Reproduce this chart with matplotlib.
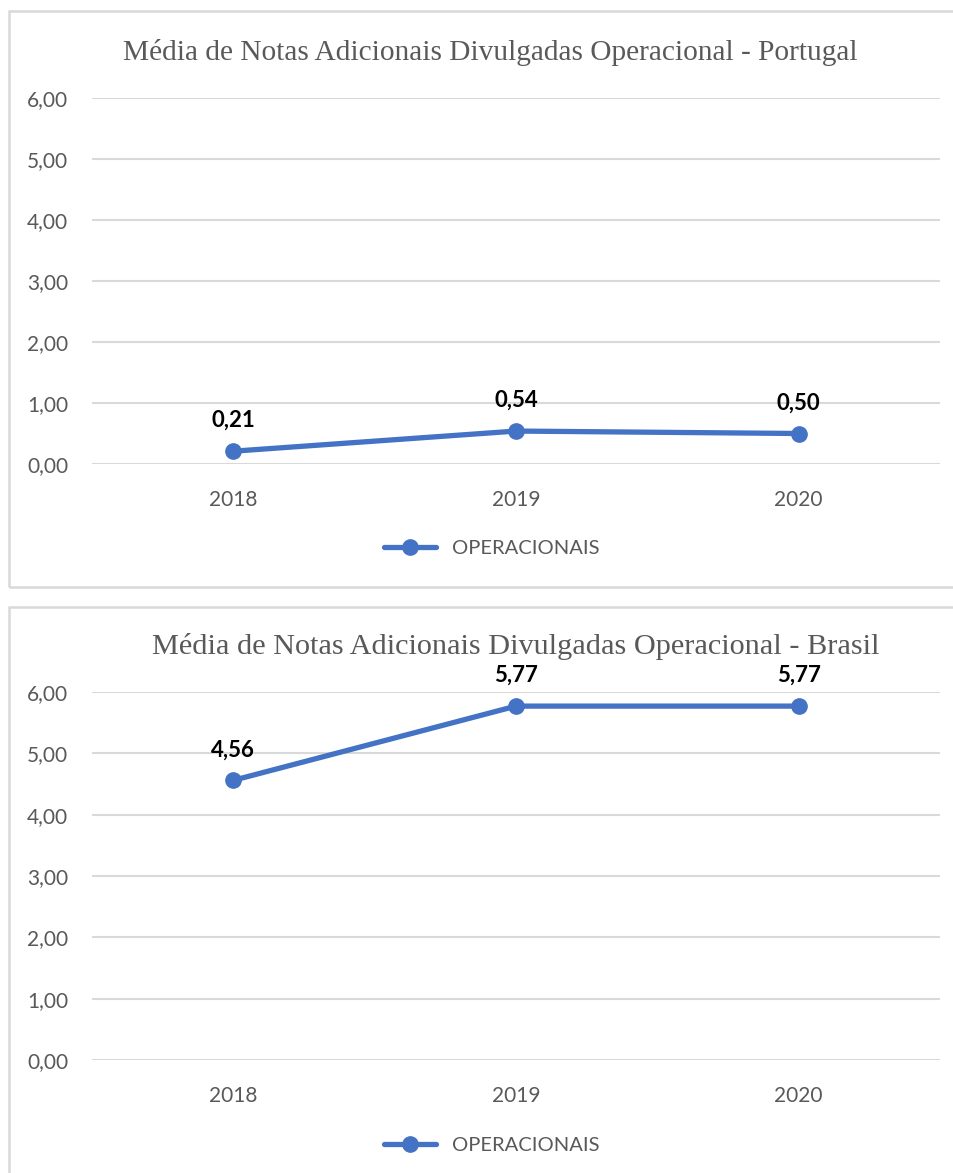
import matplotlib
matplotlib.use('Agg')
import matplotlib.pyplot as plt
from matplotlib.patches import Rectangle
from matplotlib.ticker import FuncFormatter

anos = ['2018', '2019', '2020']
portugal = [0.21, 0.54, 0.50]
brasil = [4.56, 5.77, 5.77]
titulos = ['Média de Notas Adicionais Divulgadas Operacional - Portugal',
           'Média de Notas Adicionais Divulgadas Operacional - Brasil']
serie = 'OPERACIONAIS'

azul = '#4472C4'
cinza = '#595959'
grade = '#D9D9D9'

W, H = 954, 1173
fig = plt.figure(figsize=(W / 100, H / 100), dpi=100)


def px(x, y):
    # pixel coords (top-left origin) -> figure fraction
    return x / W, 1 - y / H


def virgula(v, pos):
    return ('%.2f' % v).replace('.', ',')


def grafico(rect, valores, titulo, pos_titulo, tam_titulo, y_legenda):
    ax = fig.add_axes(rect)
    x = range(len(anos))
    ax.plot(x, valores, color=azul, lw=3.8, marker='o', ms=11,
            solid_capstyle='round', label=serie, zorder=3, clip_on=False)
    for i, v in enumerate(valores):
        ax.annotate(virgula(v, None), (i, v), xytext=(0, 22), textcoords='offset points',
                    ha='center', va='center', fontsize=16, fontweight='bold',
                    family='Lato', color='black')
    ax.set_xlim(-0.5, len(anos) - 0.5)
    ax.set_ylim(0, 6)
    ax.set_yticks(range(0, 7))
    ax.yaxis.set_major_formatter(FuncFormatter(virgula))
    ax.set_xticks(list(x))
    ax.set_xticklabels(anos)
    ax.grid(axis='y', color=grade, lw=1.5)
    ax.set_axisbelow(True)
    for s in ax.spines.values():
        s.set_visible(False)
    ax.tick_params(length=0, labelsize=15, labelcolor=cinza)
    ax.tick_params(axis='y', pad=17)
    ax.tick_params(axis='x', pad=19)
    for t in ax.get_xticklabels() + ax.get_yticklabels():
        t.set_family('Lato')
    fx, fy = px(*pos_titulo)
    fig.text(fx, fy, titulo, ha='center', va='center', fontsize=tam_titulo,
             family='Liberation Serif', color=cinza)
    lx, ly = px(492, y_legenda)
    leg = fig.legend(handles=ax.get_lines()[:1], loc='center', bbox_to_anchor=(lx, ly),
                     frameon=False, handlelength=2.6, prop={'family': 'Lato', 'size': 14.5})
    for t in leg.get_texts():
        t.set_color(cinza)
    return ax


# chart borders
for y0, y1 in [(11, 587), (607, 1190)]:
    x0f, y0f = px(9, y1)
    fig.patches.append(Rectangle((x0f, y0f), (960 - 9) / W, (y1 - y0) / H,
                                 transform=fig.transFigure, fill=False,
                                 ec=grade, lw=1.8))

l, _ = px(92, 0)
w = 848 / W
grafico([l, 1 - 464 / H, w, (464 - 98) / H], portugal, titulos[0], (490, 52), 21.2, 548)
grafico([l, 1 - 1060 / H, w, (1060 - 692) / H], brasil, titulos[1], (516, 646), 21.8, 1145)

fig.savefig('out.png', dpi=100)
